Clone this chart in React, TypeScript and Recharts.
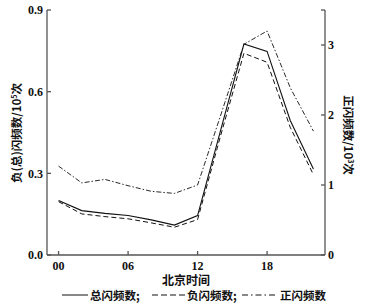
import { LineChart, Line, XAxis, YAxis } from 'recharts'

const hours = [0, 2, 4, 6, 8, 10, 12, 14, 16, 18, 20, 22]
const totalFlash = [0.2, 0.163, 0.153, 0.145, 0.129, 0.11, 0.145, 0.46, 0.775, 0.748, 0.494, 0.316]
const negFlash = [0.196, 0.151, 0.141, 0.133, 0.118, 0.102, 0.13, 0.44, 0.741, 0.708, 0.469, 0.295]
const posFlash = [1.27, 1.03, 1.08, 0.99, 0.91, 0.88, 1.0, 2.0, 3.01, 3.2, 2.39, 1.77]

const xTicks = [0, 6, 12, 18]
const leftTicks = [0, 0.3, 0.6, 0.9]
const rightTicks = [0, 1, 2, 3, 3.5]

const data = hours.map((h, i) => ({
  hour: h,
  total: totalFlash[i],
  neg: negFlash[i],
  pos: posFlash[i],
}))

const AXIS = '#555555'
const INK = '#111111'
const NUM_FONT = '"Liberation Serif", "DejaVu Serif", serif'
const CJK_FONT = '"Noto Sans CJK SC", "Noto Sans", sans-serif'

const tickStyle = { fill: INK, fontSize: 12, fontWeight: 700, fontFamily: NUM_FONT }

const legendItems = [
  { label: '总闪频数;', dash: undefined as string | undefined, left: 62, w: 26 },
  { label: '负闪频数;', dash: '6 3', left: 152, w: 33 },
  { label: '正闪频数', dash: '6 3 1.5 3', left: 242, w: 36 },
]

export default function App() {
  return (
    <div style={{ position: 'absolute', left: 0, top: 0, width: 371, height: 304, background: '#fff' }}>
      <LineChart width={371} height={304} data={data} margin={{ top: 10, right: 0, bottom: 0, left: 0 }}>
        <XAxis
          dataKey="hour"
          type="number"
          domain={[-1, 23]}
          ticks={xTicks}
          tickFormatter={(v: number) => String(v).padStart(2, '0')}
          height={49}
          tickSize={-4}
          tickMargin={10}
          stroke={AXIS}
          strokeWidth={1.3}
          tick={tickStyle}
          label={{
            content: () => (
              <text x={186} y={285} textAnchor="middle" fontFamily={CJK_FONT} fontWeight={700} fontSize={12} fill={INK}>
                北京时间
              </text>
            ),
          }}
        />
        <YAxis
          yAxisId="left"
          domain={[0, 0.9]}
          ticks={leftTicks}
          tickFormatter={(v: number) => v.toFixed(1)}
          width={47}
          tickSize={-4}
          tickMargin={8}
          stroke={AXIS}
          strokeWidth={1.3}
          tick={tickStyle}
          label={{
            content: () => (
              <text x={21} y={133} transform="rotate(-90 21 133)" textAnchor="middle" fontFamily={CJK_FONT} fontWeight={700} fontSize={11.5} fill={INK}>
                负(总)闪频数/10<tspan dy={-4} fontSize={7}>5</tspan><tspan dy={4}>次</tspan>
              </text>
            ),
          }}
        />
        <YAxis
          yAxisId="right"
          orientation="right"
          domain={[0, 3.5]}
          ticks={rightTicks}
          tickFormatter={(v: number) => (v === 3.5 ? '' : String(v))}
          width={46}
          tickSize={-4}
          tickMargin={7}
          stroke={AXIS}
          strokeWidth={1.3}
          tick={tickStyle}
          label={{
            content: () => (
              <text x={344} y={135} transform="rotate(90 344 135)" textAnchor="middle" fontFamily={CJK_FONT} fontWeight={700} fontSize={11.5} fill={INK}>
                正闪频数/10<tspan dy={-4} fontSize={7}>3</tspan><tspan dy={4}>次</tspan>
              </text>
            ),
          }}
        />
        <Line yAxisId="left" dataKey="total" stroke={INK} strokeWidth={1.1} dot={false} isAnimationActive={false} />
        <Line yAxisId="left" dataKey="neg" stroke={INK} strokeWidth={1} strokeDasharray="5 3" dot={false} isAnimationActive={false} />
        <Line yAxisId="right" dataKey="pos" stroke={INK} strokeWidth={0.9} strokeDasharray="5 2 1.5 2" dot={false} isAnimationActive={false} />
      </LineChart>

      {/* Legend */}
      {legendItems.map((it) => (
        <div
          key={it.label}
          style={{
            position: 'absolute', left: it.left, top: 287, height: 16, display: 'flex', alignItems: 'center',
            fontFamily: CJK_FONT, fontWeight: 700, fontSize: 11.5, color: INK, whiteSpace: 'nowrap',
          }}
        >
          <svg width={it.w} height={6} style={{ marginRight: 2 }}>
            <line x1={0} y1={3} x2={it.w} y2={3} stroke={INK} strokeWidth={1} strokeDasharray={it.dash} />
          </svg>
          {it.label}
        </div>
      ))}
    </div>
  )
}
